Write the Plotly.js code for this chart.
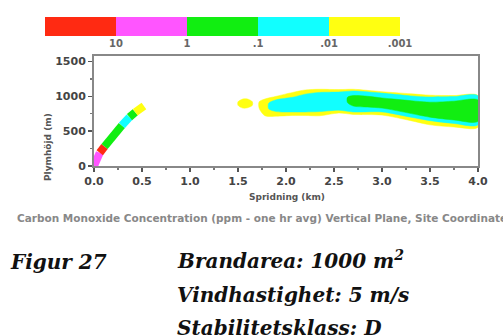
<!DOCTYPE html>
<html>
<head>
<meta charset="utf-8">
<script src="https://cdn.plot.ly/plotly-3.0.1.min.js"></script>
<style>html,body{margin:0;padding:0;background:#fff;}#chart{width:503px;height:336px;}</style>
</head>
<body>
<div id="chart"></div>
<script>
// Concentration classes (ppm) and their colours
const levels = ['10', '1', '.1', '.01', '.001'];
const levelColors = ['#ff2a12', '#ff55ff', '#11ee11', '#11ffff', '#ffff11'];

// Near-source plume rise (km, m); level index per segment
const nearX = [0.00, 0.06, 0.11, 0.29, 0.37, 0.43, 0.52];
const nearY = [0, 190, 280, 580, 700, 770, 860];
const nearLevel = [1, 0, 2, 3, 2, 4];

// Isolated .001 spot
const spotX = [1.50, 1.55, 1.60, 1.65];
const spotLo = [870, 830, 835, 870];
const spotHi = [920, 960, 960, 920];

// Main band, .001 level (yellow)
const yelX = [1.72, 1.78, 1.90, 2.07, 2.20, 2.35, 2.55, 2.70, 3.00, 3.30, 3.50, 3.75, 4.00];
const yelLo = [830, 720, 715, 725, 725, 720, 760, 740, 730, 650, 590, 560, 555];
const yelHi = [920, 960, 1000, 1055, 1090, 1100, 1095, 1100, 1065, 1035, 1015, 1010, 1010];

// .01 level (cyan)
const cyaX = [1.82, 1.90, 2.07, 2.20, 2.35, 2.55, 2.70, 3.00, 3.30, 3.50, 3.75, 4.00];
const cyaLo = [820, 780, 775, 775, 780, 800, 775, 775, 700, 650, 610, 590];
const cyaHi = [900, 950, 985, 1030, 1055, 1060, 1075, 1045, 1005, 990, 995, 1005];

// .1 level (green)
const grnX = [2.64, 2.70, 2.85, 3.00, 3.20, 3.50, 3.75, 4.00];
const grnLo = [910, 860, 845, 830, 780, 700, 660, 640];
const grnHi = [985, 1010, 1000, 975, 950, 915, 930, 945];

function band(x, lo, hi, color) {
  const px = x.concat(x.slice().reverse());
  const py = hi.concat(lo.slice().reverse());
  px.push(px[0]); py.push(py[0]);
  return {
    type: 'scatter', mode: 'lines', x: px, y: py, fill: 'toself',
    fillcolor: color, line: {color: color, width: 0.5, shape: 'spline', smoothing: 0.8},
    hoverinfo: 'skip', showlegend: false, xaxis: 'x', yaxis: 'y'
  };
}

const traces = [];
traces.push(band(spotX, spotLo, spotHi, levelColors[4]));
traces.push(band(yelX, yelLo, yelHi, levelColors[4]));
traces.push(band(cyaX, cyaLo, cyaHi, levelColors[3]));
traces.push(band(grnX, grnLo, grnHi, levelColors[2]));
for (let i = 0; i < nearLevel.length; i++) {
  traces.push({
    type: 'scatter', mode: 'lines',
    x: [nearX[i], nearX[i + 1]], y: [nearY[i], nearY[i + 1]],
    line: {color: levelColors[nearLevel[i]], width: 8},
    hoverinfo: 'skip', showlegend: false, xaxis: 'x', yaxis: 'y'
  });
}
// Colour key
traces.push({
  type: 'bar', x: levels.map((_, i) => i + 0.5), y: levels.map(() => 1), width: 1,
  marker: {color: levelColors, line: {width: 0}}, xaxis: 'x2', yaxis: 'y2',
  hoverinfo: 'skip', showlegend: false
});

const W = 503, H = 336;
const px = v => v / W, py = v => 1 - v / H;
const tickFont = {family: 'DejaVu Sans', size: 11, color: '#444', weight: 'bold'};
const serif = {family: 'DejaVu Serif', size: 20, color: '#111'};

const layout = {
  width: W, height: H,
  margin: {l: 0, r: 0, t: 0, b: 0},
  paper_bgcolor: '#ffffff', plot_bgcolor: '#ffffff',
  bargap: 0,
  xaxis: {
    domain: [px(94), px(478)], range: [0, 4], anchor: 'y',
    tickvals: [0, 0.5, 1, 1.5, 2, 2.5, 3, 3.5, 4], tickformat: '.1f',
    ticks: 'outside', ticklen: 4, tickcolor: '#555', tickwidth: 1.5,
    minor: {dtick: 0.25, ticks: 'outside', ticklen: 2, tickcolor: '#777'},
    showline: true, linecolor: '#888', linewidth: 2, mirror: true,
    showgrid: false, zeroline: false, tickfont: tickFont
  },
  yaxis: {
    domain: [py(166), py(56)], range: [0, 1577], anchor: 'x',
    tickvals: [0, 500, 1000, 1500],
    ticks: 'outside', ticklen: 4, tickcolor: '#555', tickwidth: 1.5,
    minor: {dtick: 250, ticks: 'outside', ticklen: 2, tickcolor: '#777'},
    showline: true, linecolor: '#888', linewidth: 2, mirror: true,
    showgrid: false, zeroline: false, tickfont: tickFont
  },
  xaxis2: {
    domain: [px(45), px(400)], range: [0, 5], anchor: 'y2',
    tickvals: [1, 2, 3, 4, 5], ticktext: levels, ticks: '',
    showline: false, showgrid: false, zeroline: false,
    tickfont: {family: 'DejaVu Sans', size: 10, color: '#666', weight: 'bold'}
  },
  yaxis2: {
    domain: [py(36), py(17)], range: [0, 1], anchor: 'x2', visible: false
  },
  annotations: [
    {xref: 'paper', yref: 'paper', x: px(287), y: py(197), text: 'Spridning (km)', showarrow: false,
     font: {family: 'DejaVu Sans', size: 9, color: '#555', weight: 'bold'}},
    {xref: 'paper', yref: 'paper', x: px(41), y: py(111), text: 'Plymhöjd (m)', showarrow: false, textangle: -90,
     font: {family: 'DejaVu Sans', size: 9, color: '#555', weight: 'bold'}},
    {xref: 'paper', yref: 'paper', x: px(15), y: py(218), xanchor: 'left',
     text: 'Carbon Monoxide Concentration (ppm - one hr avg) Vertical Plane, Site Coordinate', showarrow: false,
     font: {family: 'DejaVu Sans', size: 10.5, color: '#888', weight: 'bold'}},
    {xref: 'paper', yref: 'paper', x: px(8), y: py(262), yanchor: 'middle', xanchor: 'left', text: '<b><i>Figur 27</i></b>', showarrow: false,
     font: serif},
    {xref: 'paper', yref: 'paper', x: px(175), y: py(260), yanchor: 'middle', xanchor: 'left', text: '<b><i>Brandarea: 1000 m<sup>2</sup></i></b>', showarrow: false,
     font: serif},
    {xref: 'paper', yref: 'paper', x: px(175), y: py(295), yanchor: 'middle', xanchor: 'left', text: '<b><i>Vindhastighet: 5 m/s</i></b>', showarrow: false,
     font: serif},
    {xref: 'paper', yref: 'paper', x: px(175), y: py(328), yanchor: 'middle', xanchor: 'left', text: '<b><i>Stabilitetsklass: D</i></b>', showarrow: false,
     font: serif}
  ]
};

Plotly.newPlot('chart', traces, layout, {displayModeBar: false, staticPlot: true});
</script>
</body>
</html>
